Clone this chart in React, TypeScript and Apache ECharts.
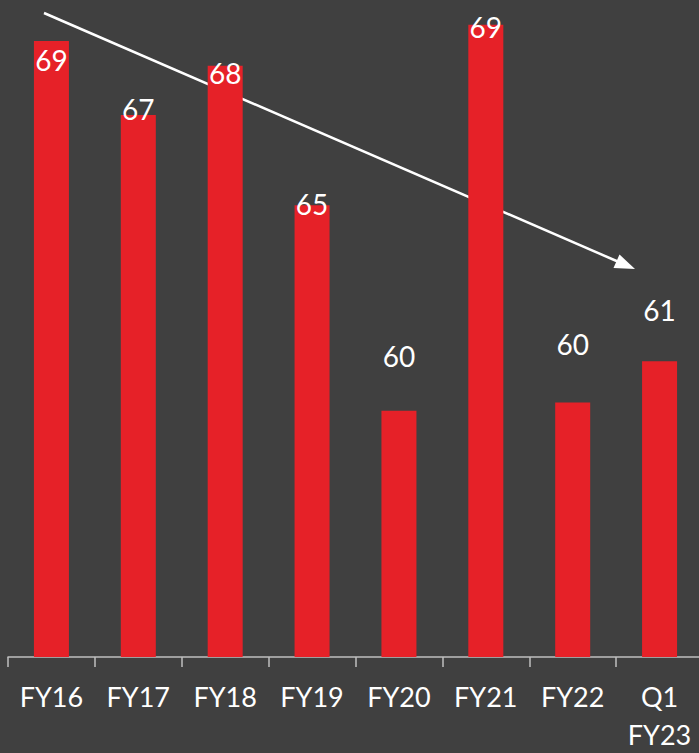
import React, { useEffect, useRef } from "react";
import * as echarts from "echarts";

// Fiscal periods and their scores
const categories: string[] = ["FY16", "FY17", "FY18", "FY19", "FY20", "FY21", "FY22", "Q1\nFY23"];
const scores: number[] = [69.0, 67.2, 68.4, 65.0, 60.0, 69.4, 60.2, 61.2];

// Vertical shift of each value label relative to its bar top
const labelShift: number[] = [19, -6, 7, -1, -55, 2, -58, -51];

const BG = "#404040";
const BAR = "#e62128";
const FONT = "Lato, 'Open Sans', sans-serif";

export default function App() {
  const ref = useRef<HTMLDivElement>(null);

  useEffect(() => {
    if (!ref.current) return;
    const chart = echarts.init(ref.current, null, { renderer: "svg" });

    const data = scores.map((v, i) => ({
      value: v,
      label: { offset: [0, labelShift[i]] },
    }));

    chart.setOption({
      animation: false,
      backgroundColor: BG,
      grid: { left: 8, right: 0, top: 0, bottom: 92, containLabel: false },
      xAxis: {
        type: "category",
        data: categories,
        axisLine: { show: true, onZero: false, lineStyle: { color: "#bfbfbf", width: 1.5 } },
        axisTick: {
          show: true,
          interval: 0,
          alignWithLabel: false,
          length: 10,
          lineStyle: { color: "#bfbfbf", width: 1.5 },
        },
        axisLabel: {
          color: "#ffffff",
          fontFamily: FONT,
          fontSize: 27,
          lineHeight: 38,
          margin: 20,
          verticalAlign: "top",
        },
      },
      yAxis: {
        type: "value",
        min: 54,
        max: 70,
        show: false,
        splitLine: { show: false },
      },
      series: [
        {
          type: "bar",
          data,
          barWidth: 35,
          itemStyle: { color: BAR },
          label: {
            show: true,
            position: "top",
            distance: 0,
            verticalAlign: "middle",
            color: "#ffffff",
            fontFamily: FONT,
            fontSize: 28,
            formatter: (p: any) => Number(p.value).toFixed(0),
          },
        },
      ],
      graphic: [
        {
          type: "line",
          shape: { x1: 44, y1: 13, x2: 620, y2: 262.5 },
          style: { stroke: "#ffffff", lineWidth: 2.5 },
        },
        {
          type: "polygon",
          shape: {
            points: [
              [635, 269],
              [619.5, 254.5],
              [613.5, 268],
            ],
          },
          style: { fill: "#ffffff" },
        },
      ],
    });

    return () => chart.dispose();
  }, []);

  return (
    <div style={{ position: "fixed", left: 0, top: 0, width: 699, height: 753, overflow: "hidden", background: BG }}>
      <div ref={ref} style={{ width: 703, height: 753 }} />
    </div>
  );
}
